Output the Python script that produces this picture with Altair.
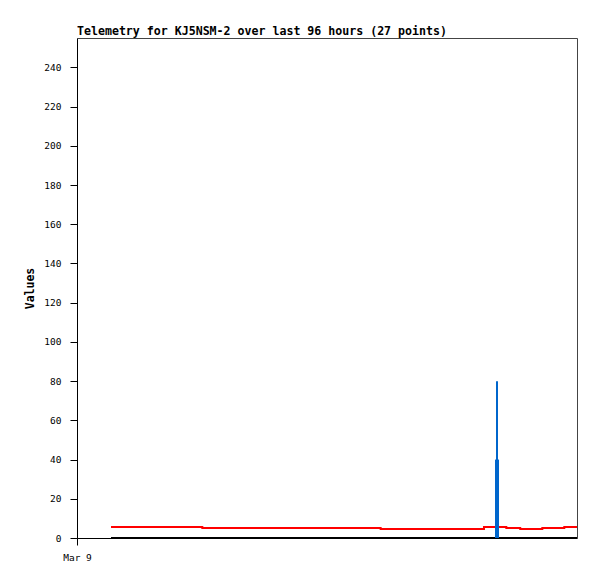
import altair as alt
import pandas as pd

# Red series (step): start hour of each segment and its value
red_hours = [6.53, 24.06, 58.3, 78.14, 82.43, 85.1, 89.34, 93.56, 96.0]
red_values = [5.6, 5.1, 4.6, 5.6, 5.1, 4.6, 5.1, 5.6, 5.6]

# Black series (flat at zero)
black_hours = [6.53, 96.0]
black_values = [0, 0]

# Blue spikes
spike_hours_thin = [80.64]
spike_values_thin = [80]
spike_hours_thick = [80.64]
spike_values_thick = [40]

y_ticks = [0, 20, 40, 60, 80, 100, 120, 140, 160, 180, 200, 220, 240]
x_tick_hours = [0]
x_tick_labels = ["Mar 9"]

FONT = "DejaVu Sans Mono"

red_df = pd.DataFrame({"h": red_hours, "v": red_values})
black_df = pd.DataFrame({"h": black_hours, "v": black_values})
thin_df = pd.DataFrame({"h": spike_hours_thin, "v": spike_values_thin, "base": [0] * len(spike_hours_thin)})
thick_df = pd.DataFrame({"h": spike_hours_thick, "v": spike_values_thick, "base": [0] * len(spike_hours_thick)})

label_expr = "datum.value == 0 ? '" + x_tick_labels[0] + "' : ''"

x_scale = alt.Scale(domain=[0, 96], nice=False, zero=False)
y_scale = alt.Scale(domain=[0, 255], nice=False)

x_enc = alt.X(
    "h:Q",
    scale=x_scale,
    axis=alt.Axis(
        values=x_tick_hours,
        labelExpr=label_expr,
        title=None,
        grid=False,
        tickSize=7,
        labelPadding=7,
        labelFlush=False,
        labelAlign="center",
        domainColor="black",
        tickColor="black",
        labelFont=FONT,
        labelFontSize=9.5,
        labelColor="black",
    ),
)
y_enc = alt.Y(
    "v:Q",
    scale=y_scale,
    axis=alt.Axis(
        values=y_ticks,
        title="Values",
        grid=False,
        ticks=True,
        tickSize=7,
        tickWidth=1,
        labelPadding=9,
        labelFlush=False,
        domainColor="black",
        tickColor="black",
        labelFont=FONT,
        labelFontSize=9.5,
        labelColor="black",
        titleFont=FONT,
        titleFontSize=11.5,
        titleFontWeight="bold",
        titleColor="black",
        titlePadding=8,
    ),
)

# frame axes (top / right) drawn as bare domain lines
x_top = alt.X(
    "h:Q",
    scale=x_scale,
    axis=alt.Axis(orient="top", labels=False, ticks=False, grid=False,
                  title=None, domainColor="#444444"),
)
y_right = alt.Y(
    "v:Q",
    scale=y_scale,
    axis=alt.Axis(orient="right", labels=False, ticks=False, grid=False,
                  title=None, domainColor="#444444"),
)

red = alt.Chart(red_df).mark_line(
    interpolate="step-after", color="#ff0000", strokeWidth=2
).encode(x=x_enc, y=y_enc)

black = alt.Chart(black_df).mark_line(color="black", strokeWidth=2).encode(
    x=x_top, y=y_right
)

thin = alt.Chart(thin_df).mark_rule(color="#0066cc", strokeWidth=2).encode(
    x=alt.X("h:Q", scale=x_scale, axis=None),
    y=alt.Y("base:Q", scale=y_scale, axis=None),
    y2="v:Q",
)
thick = alt.Chart(thick_df).mark_rule(color="#0066cc", strokeWidth=4).encode(
    x=alt.X("h:Q", scale=x_scale, axis=None),
    y=alt.Y("base:Q", scale=y_scale, axis=None),
    y2="v:Q",
)

chart = (
    alt.layer(red, black, thin, thick)
    .resolve_axis(x="independent", y="independent")
    .properties(
        width=500,
        height=500,
        title=alt.TitleParams(
            "Telemetry for KJ5NSM-2 over last 96 hours (27 points)",
            anchor="start",
            frame="group",
            font=FONT,
            fontSize=11.6,
            fontWeight="bold",
            color="black",
            offset=0,
        ),
        autosize=alt.AutoSizeParams(type="none"),
        padding={"left": 69, "top": 30, "right": 12, "bottom": 33},
    )
    .configure_view(stroke=None)
    .configure(background="white")
)

chart.save("out.html", embed_options={"renderer": "svg", "actions": False})
